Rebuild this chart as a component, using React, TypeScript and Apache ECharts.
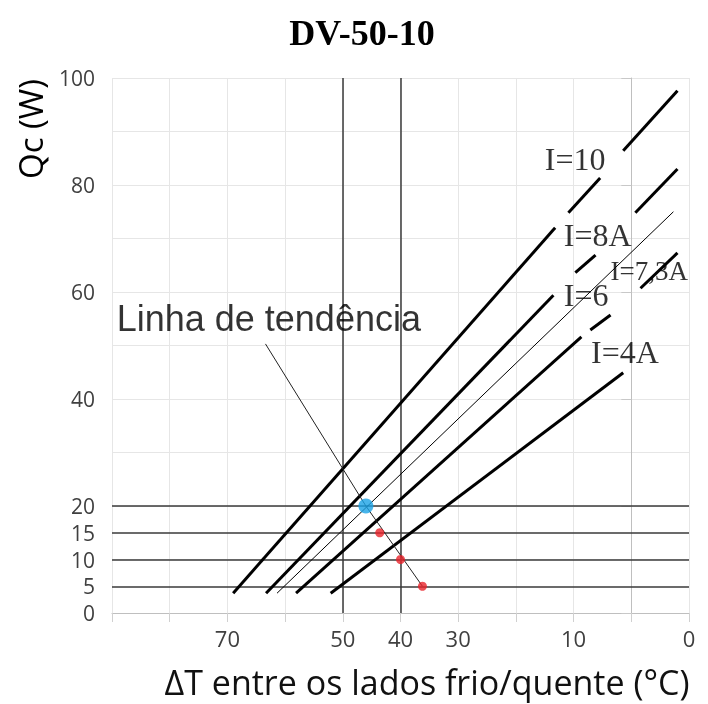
import React, { useEffect, useRef } from "react";
import * as echarts from "echarts";

// Axis ranges (x axis reversed: ΔT)
const X_MIN = -10;
const X_MAX = 90;
const Y_MIN = 0;
const Y_MAX = 100;

// Tick labels
const xTickLabels = [70, 50, 40, 30, 10];
const xEndLabel = "0"; // label printed at the right end of the axis
const yMainLabels = [0, 20, 40, 60, 80, 100];
const yExtraLabels = [5, 10, 15];

// Current curves (segments interrupted where labels sit): [ΔT, Qc]
const curveI10 = [
  [[69, 3.7], [13.2, 72]],
  [[10.9, 74.8], [5.4, 81.3]],
  [[1.4, 86.4], [-8, 97.6]],
];
const curveI8A = [
  [[63.3, 3.7], [13.5, 59.4]],
  [[9.7, 63.6], [6.2, 66.9]],
  [[-0.7, 74.8], [-8, 83]],
];
const curveI73A = [[[61.4, 3.7], [-7.3, 75]]];
const curveI6 = [
  [[58.1, 3.7], [8.65, 51.6]],
  [[7.1, 52.9], [3.6, 55.7]],
  [[-1.6, 60.7], [-8, 67.3]],
];
const curveI4A = [[[52.1, 3.7], [1.4, 44.9]]];

// Trend line and points
const trendLine = [[63.4, 50.3], [46, 20], [36.2, 5]];
const bluePoint = [[46, 20]];
const redPoints = [[43.6, 15], [40, 10], [36.2, 5]];

// Reference lines
const refY = [20, 15, 10, 5];
const refX = [50, 40];

// Annotations
const curveLabels = [
  { text: "I=10", at: [14.9, 84.7], size: 32 },
  { text: "I=8A", at: [11.6, 70.5], size: 32 },
  { text: "I=7,3A", at: [3.5, 63.9], size: 27 },
  { text: "I=6", at: [11.6, 59.3], size: 32 },
  { text: "I=4A", at: [6.9, 48.6], size: 32 },
];
const trendLabel = { text: "Linha de tendência", at: [89.1, 55.0] };

const SANS = "'Open Sans', 'DejaVu Sans', sans-serif";
const SERIF = "'Liberation Serif', 'DejaVu Serif', serif";

export default function App() {
  const ref = useRef<HTMLDivElement>(null);

  useEffect(() => {
    if (!ref.current) return;
    const chart = echarts.init(ref.current, null, { renderer: "svg" });

    const segSeries = (segs: number[][][], width: number, name: string) =>
      segs.map((seg, i) => ({
        name: name + "_" + i,
        type: "line",
        data: seg,
        symbol: "none",
        silent: true,
        lineStyle: { color: "#000", width },
        z: 5,
      }));

    const series: any[] = [
      ...segSeries(curveI10, 3, "I10"),
      ...segSeries(curveI8A, 3, "I8A"),
      ...segSeries(curveI73A, 1, "I73A"),
      ...segSeries(curveI6, 3, "I6"),
      ...segSeries(curveI4A, 3, "I4A"),
      {
        name: "trend",
        type: "line",
        data: trendLine,
        symbol: "none",
        silent: true,
        lineStyle: { color: "#222", width: 1 },
        z: 6,
        markLine: {
          silent: true,
          symbol: ["none", "none"],
          label: { show: false },
          lineStyle: { color: "#3a3a3a", width: 1.5, type: "solid" },
          data: [
            ...refY.map((v) => ({ yAxis: v })),
            ...refX.map((v) => ({ xAxis: v })),
          ],
        },
      },
      {
        name: "red",
        type: "scatter",
        data: redPoints,
        symbolSize: 9,
        itemStyle: { color: "#e8232b" },
        z: 8,
      },
      {
        name: "blue",
        type: "scatter",
        data: bluePoint,
        symbolSize: 15,
        itemStyle: { color: "#1aa3e6" },
        z: 9,
      },
      ...curveLabels.map((l, i) => ({
        name: "lab" + i,
        type: "scatter",
        data: [l.at],
        symbolSize: 1,
        itemStyle: { color: "rgba(0,0,0,0)" },
        silent: true,
        z: 10,
        label: {
          show: true,
          position: [0, 0],
          align: "left",
          verticalAlign: "middle",
          formatter: l.text,
          fontFamily: SERIF,
          fontSize: l.size,
          color: "#000",
        },
      })),
      {
        name: "trendLabel",
        type: "scatter",
        data: [trendLabel.at],
        symbolSize: 1,
        itemStyle: { color: "rgba(0,0,0,0)" },
        silent: true,
        z: 10,
        label: {
          show: true,
          position: [0, 0],
          align: "left",
          verticalAlign: "middle",
          formatter: trendLabel.text,
          fontFamily: "'Liberation Sans', Arial, sans-serif",
          fontSize: 36,
          color: "#000",
        },
      },
    ];

    const yLabelStyle = {
      margin: 17,
      fontFamily: SANS,
      fontSize: 21,
      lineHeight: 20,
      color: "#404040",
    };

    chart.setOption({
      animation: false,
      title: {
        text: "DV-50-10",
        left: 357,
        textAlign: "center",
        top: 10,
        textStyle: {
          fontFamily: SERIF,
          fontWeight: "bold",
          fontSize: 36,
          color: "#000",
        },
      },
      grid: { left: 112, right: 19, top: 78, bottom: 91 },
      xAxis: {
        type: "value",
        min: X_MIN,
        max: X_MAX,
        interval: 10,
        inverse: true,
        axisLine: { show: true, lineStyle: { color: "#bfbfbf", width: 1 } },
        axisTick: { show: true, length: 9, lineStyle: { color: "#d0d0d0" } },
        splitLine: { show: true, lineStyle: { color: "#e6e6e6", width: 1 } },
        axisLabel: {
          margin: 14,
          fontFamily: SANS,
          fontSize: 22,
          color: "#404040",
          showMaxLabel: true,
          showMinLabel: true,
          formatter: (v: number) =>
            v === X_MIN ? xEndLabel : xTickLabels.includes(v) ? String(v) : "",
        },
      },
      yAxis: [
        {
          type: "value",
          min: Y_MIN,
          max: Y_MAX,
          interval: 20,
          axisLine: { show: true, lineStyle: { color: "#bfbfbf", width: 1 } },
          axisTick: { show: true, length: 10, lineStyle: { color: "#c8c8c8" } },
          splitLine: { show: true, lineStyle: { color: "#e6e6e6", width: 1 } },
          minorTick: { show: false, splitNumber: 2 },
          minorSplitLine: { show: true, lineStyle: { color: "#e6e6e6", width: 1 } },
          axisLabel: {
            ...yLabelStyle,
            formatter: (v: number) => (yMainLabels.includes(v) ? String(v) : ""),
          },
        },
        {
          type: "value",
          min: Y_MIN,
          max: Y_MAX,
          interval: 5,
          position: "left",
          axisLine: { show: false },
          axisTick: { show: false },
          splitLine: { show: false },
          axisLabel: {
            ...yLabelStyle,
            formatter: (v: number) => (yExtraLabels.includes(v) ? String(v) : ""),
          },
        },
      ],
      graphic: [
        {
          type: "text",
          x: 30,
          y: 129,
          rotation: Math.PI / 2,
          style: {
            text: "Qc (W)",
            fontFamily: SANS,
            fontSize: 33,
            fill: "#000",
            align: "center",
            verticalAlign: "middle",
          },
        },
        {
          type: "text",
          x: 427,
          y: 682,
          style: {
            text: "ΔT entre os lados frio/quente (°C)",
            fontFamily: SANS,
            fontSize: 34,
            lineHeight: 34,
            fill: "#111",
            align: "center",
            verticalAlign: "middle",
          },
        },
      ],
      series,
    });

    return () => chart.dispose();
  }, []);

  return (
    <div
      ref={ref}
      style={{ position: "fixed", left: 0, top: 0, width: 708, height: 704 }}
    />
  );
}
